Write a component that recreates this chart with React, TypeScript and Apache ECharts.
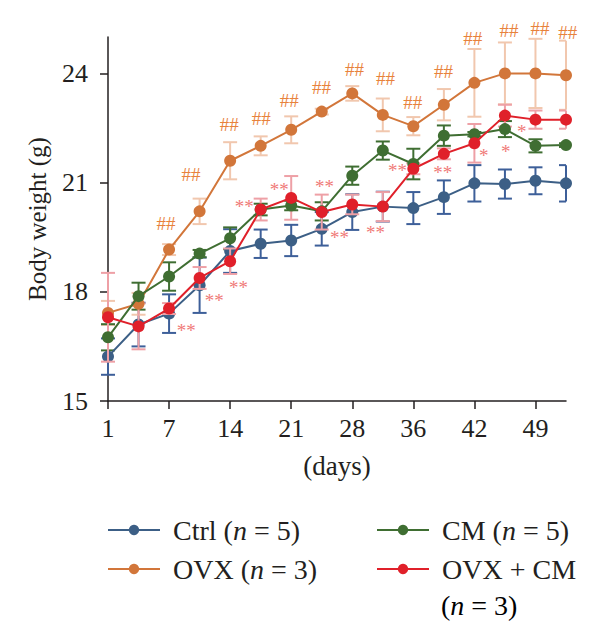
import React, { useEffect, useRef } from "react";
import * as echarts from "echarts";

// Sampling days (one point every ~3.5 days); only every other day is labelled.
const DAYS = [1, 4, 7, 11, 14, 18, 21, 25, 28, 32, 36, 39, 42, 46, 49, 53];
const X_TICKS = [0, 2, 4, 6, 8, 10, 12, 14];
const Y_TICKS = [15, 18, 21, 24];

// Mean body weight (g) and error per group
const CTRL = [16.22, 17.1, 17.4, 18.18, 19.12, 19.32, 19.41, 19.73, 20.19, 20.34, 20.3, 20.6, 20.98, 20.96, 21.05, 20.98];
const CTRL_ERR = [0.5, 0.6, 0.53, 0.76, 0.6, 0.39, 0.43, 0.46, 0.49, 0.41, 0.44, 0.46, 0.5, 0.4, 0.37, 0.5];
const OVX = [17.42, 17.67, 19.16, 20.21, 21.6, 22.01, 22.45, 22.95, 23.45, 22.86, 22.55, 23.14, 23.74, 24.0, 24.0, 23.95];
const OVX_ERR = [0.33, 0.3, 0.15, 0.35, 0.51, 0.26, 0.37, 0.08, 0.2, 0.45, 0.25, 0.43, 0.93, 0.85, 0.95, 0.95];
const CM = [16.75, 17.88, 18.42, 19.05, 19.47, 20.26, 20.37, 20.21, 21.19, 21.88, 21.51, 22.29, 22.33, 22.47, 22.01, 22.03];
const CM_ERR = [0.36, 0.37, 0.39, 0.1, 0.3, 0.16, 0.13, 0.25, 0.25, 0.25, 0.42, 0.28, 0.06, 0.22, 0.18, 0.05];
const OVX_CM = [17.3, 17.05, 17.54, 18.38, 18.84, 20.26, 20.58, 20.19, 20.4, 20.34, 21.38, 21.79, 22.08, 22.84, 22.73, 22.73];
const OVX_CM_ERR = [1.22, 0.63, 0.15, 0.3, 0.35, 0.3, 0.6, 0.48, 0.27, 0.4, 0.15, 0.15, 0.53, 0.3, 0.25, 0.25];

// Significance marks: [x (point index), y (g)]
const HASH_MARKS = [
  [1.9, 19.88], [2.72, 21.22], [3.97, 22.59], [5.02, 22.75], [5.94, 23.25], [6.99, 23.61],
  [8.07, 24.11], [9.09, 23.86], [9.98, 23.2], [10.99, 24.05], [11.95, 24.96], [13.13, 25.19],
  [14.15, 25.24], [15.06, 25.12],
];
const STAR_MARKS: [number, number, string][] = [
  [2.56, 17.03, "**"], [3.48, 17.85, "**"], [4.27, 18.21, "**"], [4.46, 20.42, "**"],
  [5.61, 20.89, "**"], [7.09, 20.97, "**"], [7.58, 19.58, "**"], [8.76, 19.71, "**"],
  [9.48, 21.41, "**"], [10.96, 21.36, "**"], [12.31, 21.82, "*"], [13.03, 21.93, "*"],
  [13.55, 22.48, "*"],
];

const X_MAX = 15;
const FONT = "Liberation Serif, Times New Roman, serif";
const INK = "#231f20";

const GROUPS = [
  { name: "Ctrl", n: 5, values: CTRL, err: CTRL_ERR, color: "#3c5f86", errColor: "#3d5f99", z: 3 },
  { name: "OVX", n: 3, values: OVX, err: OVX_ERR, color: "#d2763a", errColor: "#f1c7ae", z: 4 },
  { name: "CM", n: 5, values: CM, err: CM_ERR, color: "#3f6e32", errColor: "#3f6e32", z: 5 },
  { name: "OVX + CM", n: 3, values: OVX_CM, err: OVX_CM_ERR, color: "#e0202a", errColor: "#eea0a6", z: 6 },
];

const RICH = {
  p: { width: 8, fontSize: 28, lineHeight: 30 },
  t: { fontSize: 28, fontFamily: FONT, color: INK, lineHeight: 30 },
  i: { fontSize: 28, fontFamily: FONT, color: INK, fontStyle: "italic", lineHeight: 30 },
};

function legendLabel(name: string) {
  if (name === "OVX + CM") return "{p|}{t|OVX + CM}";
  const g = GROUPS.find((x) => x.name === name)!;
  return `{p|}{t|${name} (}{i|n}{t| = ${g.n})}`;
}

function errorBarSeries(g: (typeof GROUPS)[number]) {
  return {
    type: "custom",
    silent: true,
    clip: false,
    z: g.z - 2,
    data: g.values.map((v, i) => [i, v - g.err[i], v + g.err[i]]),
    encode: { x: 0, y: [1, 2] },
    renderItem: (_params: any, api: any) => {
      const x = api.value(0);
      const lo = api.coord([x, api.value(1)]);
      const hi = api.coord([x, api.value(2)]);
      const xEnd = api.coord([X_MAX, 15])[0];
      const half = 7;
      const l = lo[0] - half;
      const r = Math.min(lo[0] + half, xEnd);
      const style = { stroke: g.errColor, lineWidth: 2 };
      return {
        type: "group",
        children: [
          { type: "line", shape: { x1: lo[0], y1: lo[1], x2: hi[0], y2: hi[1] }, style },
          { type: "line", shape: { x1: l, y1: lo[1], x2: r, y2: lo[1] }, style },
          { type: "line", shape: { x1: l, y1: hi[1], x2: r, y2: hi[1] }, style },
        ],
      };
    },
  };
}

function markSeries(points: number[][], texts: string[], color: string, size: number, dy: number) {
  return {
    type: "custom",
    silent: true,
    clip: false,
    z: 10,
    data: points.map((p) => [p[0], p[1]]),
    encode: { x: 0, y: 1 },
    renderItem: (params: any, api: any) => {
      const p = api.coord([api.value(0), api.value(1)]);
      return {
        type: "text",
        x: p[0],
        y: p[1] + dy,
        style: {
          text: texts[params.dataIndex],
          fill: color,
          fontSize: size,
          fontFamily: FONT,
          align: "center",
          verticalAlign: "middle",
        },
      };
    },
  };
}

export default function App() {
  const ref = useRef<HTMLDivElement>(null);

  useEffect(() => {
    const chart = echarts.init(ref.current!, undefined, { renderer: "svg" });

    const option: any = {
      animation: false,
      backgroundColor: "#ffffff",
      grid: { left: 108, right: 34, top: 37, bottom: 237 },
      xAxis: {
        type: "value",
        min: 0,
        max: X_MAX,
        name: "(days)",
        nameLocation: "middle",
        nameGap: 51,
        nameTextStyle: { fontSize: 27, fontFamily: FONT, color: INK },
        axisLine: { lineStyle: { color: INK, width: 1.5 } },
        axisTick: { show: true, length: 8, customValues: X_TICKS, lineStyle: { color: INK, width: 1.5 } },
        axisLabel: {
          customValues: X_TICKS,
          formatter: (v: number) => String(DAYS[v]),
          fontSize: 26,
          fontFamily: FONT,
          color: INK,
          margin: 14,
        },
        splitLine: { show: false },
      },
      yAxis: {
        type: "value",
        min: 15,
        max: 25,
        name: "Body weight (g)",
        nameLocation: "middle",
        nameGap: 58,
        nameTextStyle: { fontSize: 25, fontFamily: FONT, color: INK },
        axisLine: { show: true, lineStyle: { color: INK, width: 1.5 } },
        axisTick: { show: true, length: 8, customValues: Y_TICKS, lineStyle: { color: INK, width: 1.5 } },
        axisLabel: { customValues: Y_TICKS, fontSize: 26, fontFamily: FONT, color: INK, margin: 20 },
        splitLine: { show: false },
      },
      legend: [
        {
          data: ["Ctrl", "OVX"],
          orient: "vertical",
          left: 107,
          top: 516,
          padding: 0,
          itemGap: 11,
          itemWidth: 52,
          itemHeight: 13,
          selectedMode: false,
          formatter: legendLabel,
          textStyle: { rich: RICH },
        },
        {
          data: ["CM", "OVX + CM"],
          orient: "vertical",
          left: 376,
          top: 516,
          padding: 0,
          itemGap: 11,
          itemWidth: 52,
          itemHeight: 13,
          selectedMode: false,
          formatter: legendLabel,
          textStyle: { rich: RICH },
        },
      ],
      graphic: [
        {
          type: "text",
          x: 441,
          y: 605,
          style: {
            text: "{t|(}{i|n}{t| = 3)}",
            rich: RICH,
            verticalAlign: "middle",
          },
        },
      ],
      series: [
        ...GROUPS.map(errorBarSeries),
        ...GROUPS.map((g) => ({
          type: "line",
          name: g.name,
          data: g.values.map((v, i) => [i, v]),
          symbol: "circle",
          symbolSize: 12,
          z: g.z,
          lineStyle: { color: g.color, width: 2 },
          itemStyle: { color: g.color },
        })),
        markSeries(HASH_MARKS, HASH_MARKS.map(() => "##"), "#e8823c", 19, 0),
        markSeries(
          STAR_MARKS.map((m) => [m[0], m[1]]),
          STAR_MARKS.map((m) => m[2]),
          "#f07a78",
          19,
          3
        ),
      ],
    };

    chart.setOption(option);
    return () => chart.dispose();
  }, []);

  return (
    <div
      ref={ref}
      style={{ position: "fixed", left: 0, top: 0, width: 600, height: 638, background: "#fff" }}
    />
  );
}
